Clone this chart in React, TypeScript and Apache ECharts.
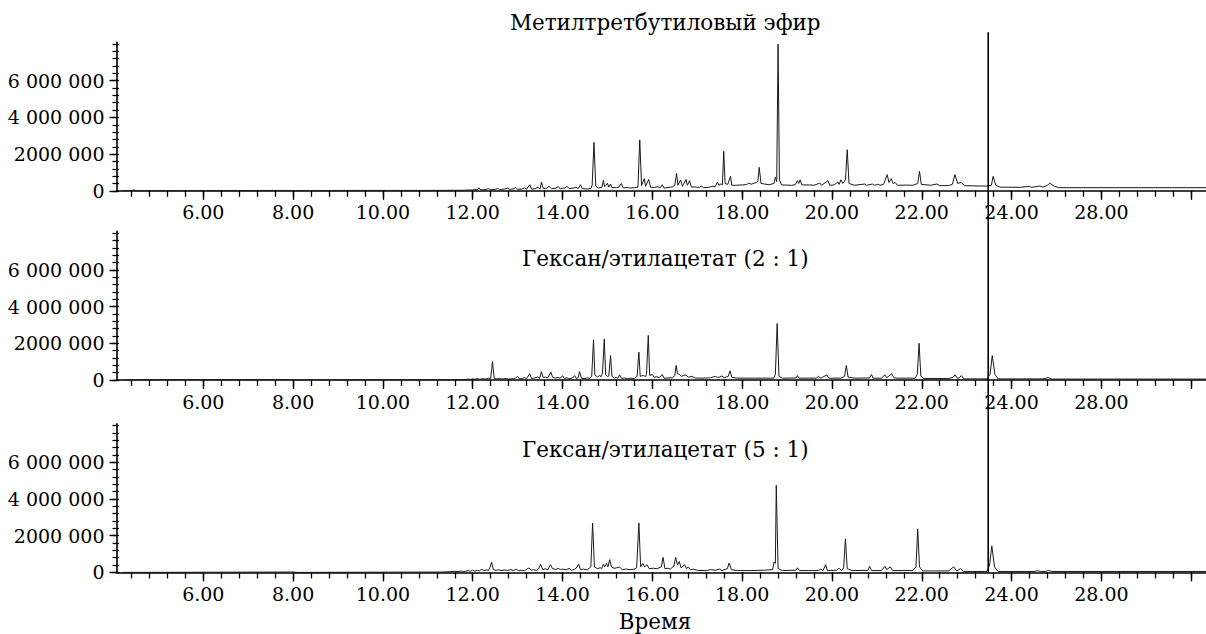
import React, { useEffect, useRef } from "react";
import * as echarts from "echarts";

// ---- Data (retention time in min, abundance) ----
const titles = [
  "Метилтретбутиловый эфир",
  "Гексан/этилацетат (2 : 1)",
  "Гексан/этилацетат (5 : 1)",
];
const xAxisName = "Время";

const xLabelValues = [6, 8, 10, 12, 14, 16, 18, 20, 22, 24, 26];
const xLabelTexts = ["6.00", "8.00", "10.00", "12.00", "14.00", "16.00", "18.00", "20.00", "22.00", "24.00", "28.00"];
const xMajorTicks = [6, 8, 10, 12, 14, 16, 18, 20, 22, 24, 26, 28];
const yLabelValues = [0, 2000000, 4000000, 6000000];
const yLabelTexts = ["0", "2000 000", "4 000 000", "6 000 000"];

const markerTime = 23.48;
const markerTop = 8640000;

const seriesMTBE: [number, number][] = [
  [4.2, 0], [4.4, 10000], [4.45, 50000], [4.5, 10000], [6, 10000], [7.8, 20000], [8, 10000], [9.5, 20000], [11, 20000],
  [11.8, 30000], [11.95, 50000], [12.0, 40000], [12.05, 90000], [12.1, 50000], [12.14, 160000], [12.18, 50000],
  [12.3, 70000], [12.35, 120000], [12.4, 60000], [12.5, 80000], [12.55, 130000], [12.6, 70000], [12.7, 90000],
  [12.78, 140000], [12.82, 80000], [12.9, 100000], [12.96, 180000], [13.0, 80000], [13.1, 100000], [13.15, 160000],
  [13.2, 90000], [13.27, 330000], [13.31, 90000], [13.4, 120000], [13.45, 200000], [13.5, 100000], [13.53, 480000],
  [13.57, 120000], [13.65, 150000], [13.7, 250000], [13.75, 120000], [13.85, 140000], [13.9, 220000], [13.95, 120000],
  [14.05, 150000], [14.1, 240000], [14.15, 120000], [14.25, 150000], [14.3, 200000], [14.35, 120000], [14.4, 330000],
  [14.44, 120000], [14.55, 100000], [14.63, 120000], [14.66, 300000], [14.70, 2640000], [14.74, 250000], [14.8, 150000],
  [14.88, 200000], [14.91, 570000], [14.94, 220000], [14.97, 300000], [15.0, 420000], [15.03, 200000], [15.07, 370000],
  [15.1, 180000], [15.2, 170000], [15.25, 200000], [15.31, 400000], [15.35, 160000], [15.45, 180000], [15.5, 150000],
  [15.6, 170000], [15.68, 200000], [15.72, 2780000], [15.76, 280000], [15.82, 660000], [15.85, 250000], [15.92, 620000],
  [15.96, 200000], [16.05, 180000], [16.12, 220000], [16.18, 170000], [16.22, 330000], [16.26, 150000], [16.35, 180000],
  [16.45, 220000], [16.5, 300000], [16.54, 950000], [16.57, 300000], [16.63, 590000], [16.67, 250000], [16.75, 620000],
  [16.78, 300000], [16.83, 550000], [16.87, 200000], [16.95, 210000], [17.05, 180000], [17.09, 260000], [17.14, 170000],
  [17.25, 190000], [17.35, 250000], [17.4, 220000], [17.45, 480000], [17.48, 300000], [17.53, 380000], [17.56, 320000],
  [17.59, 2150000], [17.62, 400000], [17.68, 350000], [17.74, 790000], [17.77, 300000], [17.85, 300000], [18.0, 320000],
  [18.1, 340000], [18.15, 420000], [18.2, 360000], [18.27, 420000], [18.32, 450000], [18.35, 520000], [18.38, 1280000],
  [18.42, 400000], [18.6, 330000], [18.71, 400000], [18.74, 750000], [18.77, 500000], [18.8, 8000000], [18.83, 600000],
  [18.88, 320000], [19.1, 300000], [19.18, 330000], [19.23, 550000], [19.26, 400000], [19.29, 600000], [19.33, 320000],
  [19.5, 320000], [19.6, 300000], [19.73, 420000], [19.77, 300000], [19.91, 550000], [19.95, 300000], [20.05, 320000],
  [20.13, 480000], [20.16, 350000], [20.2, 600000], [20.24, 400000], [20.3, 600000], [20.34, 2240000], [20.38, 400000],
  [20.5, 300000], [20.73, 370000], [20.77, 300000], [20.9, 370000], [20.95, 300000], [21.03, 360000], [21.07, 300000],
  [21.15, 350000], [21.23, 880000], [21.27, 450000], [21.32, 660000], [21.36, 400000], [21.41, 450000], [21.46, 300000],
  [21.65, 310000], [21.8, 300000], [21.91, 400000], [21.95, 1060000], [21.99, 350000], [22.2, 300000], [22.34, 370000],
  [22.4, 280000], [22.6, 290000], [22.68, 350000], [22.74, 880000], [22.8, 400000], [22.88, 460000], [22.95, 280000],
  [23.3, 260000], [23.45, 260000], [23.55, 300000], [23.59, 790000], [23.65, 300000], [23.75, 200000], [24.2, 190000],
  [24.4, 240000], [24.45, 190000], [24.63, 260000], [24.7, 200000], [24.8, 300000], [24.85, 420000], [24.95, 250000],
  [25.05, 170000], [28.4, 170000],
];

const seriesHex21: [number, number][] = [
  [4.2, 0], [4.6, 10000], [7.8, 20000], [8, 0], [11.8, 10000], [11.9, 50000], [11.95, 30000], [12.0, 60000],
  [12.05, 40000], [12.1, 80000], [12.15, 40000], [12.22, 70000], [12.3, 50000], [12.36, 110000], [12.4, 60000],
  [12.44, 1000000], [12.48, 80000], [12.55, 60000], [12.6, 90000], [12.65, 50000], [12.75, 80000], [12.8, 50000],
  [12.9, 70000], [12.95, 100000], [13.0, 200000], [13.04, 60000], [13.1, 80000], [13.15, 130000], [13.2, 70000],
  [13.27, 340000], [13.31, 90000], [13.38, 110000], [13.45, 170000], [13.49, 90000], [13.53, 460000], [13.57, 130000],
  [13.62, 160000], [13.67, 110000], [13.74, 430000], [13.78, 150000], [13.85, 100000], [13.9, 140000], [13.95, 90000],
  [14.0, 240000], [14.04, 80000], [14.1, 120000], [14.15, 70000], [14.22, 110000], [14.27, 240000], [14.31, 80000],
  [14.35, 130000], [14.38, 460000], [14.42, 100000], [14.5, 70000], [14.55, 120000], [14.6, 80000], [14.65, 200000],
  [14.69, 2190000], [14.72, 280000], [14.78, 150000], [14.82, 250000], [14.86, 180000], [14.89, 380000], [14.93, 2240000],
  [14.96, 300000], [15.0, 180000], [15.03, 220000], [15.07, 1330000], [15.1, 200000], [15.15, 100000], [15.2, 140000],
  [15.23, 90000], [15.27, 280000], [15.31, 90000], [15.38, 110000], [15.45, 70000], [15.52, 100000], [15.6, 80000],
  [15.66, 200000], [15.70, 1520000], [15.73, 200000], [15.8, 250000], [15.85, 180000], [15.87, 300000], [15.91, 2430000],
  [15.94, 250000], [16.0, 300000], [16.04, 150000], [16.1, 180000], [16.15, 120000], [16.22, 300000], [16.26, 100000],
  [16.35, 110000], [16.45, 120000], [16.5, 250000], [16.53, 790000], [16.56, 350000], [16.61, 300000], [16.65, 200000],
  [16.7, 250000], [16.75, 280000], [16.8, 150000], [16.88, 200000], [16.95, 110000], [17.1, 100000], [17.3, 120000],
  [17.4, 200000], [17.45, 140000], [17.5, 160000], [17.55, 220000], [17.6, 120000], [17.69, 200000], [17.73, 500000],
  [17.77, 150000], [17.9, 100000], [18.3, 100000], [18.7, 100000], [18.74, 300000], [18.78, 3080000], [18.82, 200000],
  [18.9, 100000], [19.2, 110000], [19.23, 250000], [19.27, 100000], [19.65, 100000], [19.7, 200000], [19.75, 100000],
  [19.89, 280000], [19.93, 100000], [20.2, 100000], [20.28, 200000], [20.32, 790000], [20.36, 150000], [20.5, 100000],
  [20.84, 110000], [20.88, 300000], [20.92, 100000], [21.1, 100000], [21.18, 280000], [21.22, 120000], [21.33, 340000],
  [21.38, 120000], [21.45, 100000], [21.85, 100000], [21.9, 300000], [21.94, 2000000], [21.98, 200000], [22.05, 80000],
  [22.6, 80000], [22.7, 150000], [22.74, 280000], [22.8, 80000], [22.85, 150000], [22.88, 240000], [22.94, 60000],
  [23.45, 60000], [23.52, 300000], [23.57, 1330000], [23.63, 300000], [23.7, 60000], [24.7, 60000], [24.82, 130000],
  [24.9, 50000], [28.4, 50000],
];

const seriesHex51: [number, number][] = [
  [4.2, 0], [6.3, 10000], [8, 20000], [8.1, 0], [11.3, 20000], [11.5, 40000], [11.6, 60000], [11.65, 40000],
  [11.75, 70000], [11.8, 50000], [11.9, 90000], [11.95, 60000], [12.0, 120000], [12.05, 70000], [12.1, 110000],
  [12.15, 80000], [12.2, 170000], [12.25, 90000], [12.3, 140000], [12.35, 100000], [12.38, 250000], [12.42, 560000],
  [12.46, 150000], [12.52, 110000], [12.58, 150000], [12.63, 100000], [12.7, 130000], [12.78, 110000], [12.85, 150000],
  [12.9, 100000], [12.97, 170000], [13.02, 100000], [13.1, 120000], [13.15, 90000], [13.25, 240000], [13.3, 120000],
  [13.36, 150000], [13.42, 110000], [13.47, 200000], [13.51, 450000], [13.56, 150000], [13.62, 200000], [13.67, 130000],
  [13.73, 420000], [13.78, 200000], [13.85, 160000], [13.9, 220000], [13.95, 150000], [14.0, 180000], [14.08, 140000],
  [14.15, 220000], [14.2, 110000], [14.26, 170000], [14.3, 220000], [14.36, 450000], [14.4, 150000], [14.47, 180000],
  [14.55, 140000], [14.63, 300000], [14.67, 2690000], [14.71, 300000], [14.78, 200000], [14.84, 260000], [14.87, 200000],
  [14.91, 450000], [14.94, 300000], [14.98, 490000], [15.01, 300000], [15.05, 690000], [15.09, 300000], [15.15, 220000],
  [15.2, 250000], [15.27, 290000], [15.33, 150000], [15.42, 180000], [15.5, 150000], [15.6, 180000], [15.65, 250000],
  [15.70, 2690000], [15.74, 300000], [15.79, 490000], [15.83, 300000], [15.88, 420000], [15.93, 200000], [16.02, 230000],
  [16.1, 200000], [16.2, 300000], [16.24, 820000], [16.28, 200000], [16.35, 230000], [16.4, 180000], [16.48, 350000],
  [16.52, 820000], [16.56, 400000], [16.6, 600000], [16.64, 250000], [16.72, 420000], [16.76, 200000], [16.8, 300000],
  [16.85, 150000], [16.92, 180000], [17.0, 110000], [17.2, 100000], [17.3, 150000], [17.4, 120000], [17.5, 180000],
  [17.55, 100000], [17.67, 200000], [17.71, 510000], [17.76, 150000], [17.9, 100000], [18.2, 100000], [18.5, 120000],
  [18.68, 150000], [18.71, 560000], [18.74, 500000], [18.76, 4750000], [18.8, 200000], [18.9, 100000], [19.2, 120000],
  [19.23, 250000], [19.28, 100000], [19.7, 100000], [19.75, 180000], [19.8, 100000], [19.86, 420000], [19.9, 100000],
  [20.1, 120000], [20.16, 220000], [20.22, 100000], [20.26, 250000], [20.30, 1830000], [20.34, 200000], [20.45, 100000],
  [20.8, 110000], [20.84, 330000], [20.88, 100000], [21.1, 100000], [21.18, 330000], [21.22, 150000], [21.3, 300000],
  [21.35, 100000], [21.8, 100000], [21.87, 300000], [21.91, 2360000], [21.95, 300000], [22.02, 80000], [22.6, 80000],
  [22.71, 300000], [22.78, 80000], [22.86, 200000], [22.93, 50000], [23.45, 50000], [23.51, 400000], [23.56, 1450000],
  [23.62, 300000], [23.7, 50000], [24.5, 50000], [24.59, 90000], [24.65, 50000], [24.75, 50000], [24.82, 110000],
  [24.9, 50000], [28.4, 50000],
];

const panelData = [seriesMTBE, seriesHex21, seriesHex51];

// ---- Layout ----
const W = 1206;
const H = 634;
const FONT = "DejaVu Serif";
const FS = 19;
const TITLE_FS = 21.5;
const gridLeft = 116.5;
const plotH = 148.6;
const zeroY = [190.8, 380, 572.4];
const titleY = [22, 258, 449];
const xMin = 4.067;
const xMax = 28.33;
const yMax = 8100000;

const xMinorTicks: number[] = [];
for (let k = 0; k <= 60; k++) {
  const v = Math.round((4.4 + 0.4 * k) * 10) / 10;
  if (v <= xMax) xMinorTicks.push(v);
}
const yMinorTicks: number[] = [];
for (let k = 0; k <= 20; k++) yMinorTicks.push(k * 400000);

export default function App() {
  const ref = useRef<HTMLDivElement>(null);
  useEffect(() => {
    if (!ref.current) return;
    const chart = echarts.init(ref.current, null, { renderer: "svg", width: W, height: H });
    const grids: any[] = [];
    const xAxes: any[] = [];
    const yAxes: any[] = [];
    const series: any[] = [];
    const black = "#000";
    for (let g = 0; g < 3; g++) {
      grids.push({ left: gridLeft, top: zeroY[g] - plotH, height: plotH, right: 0, containLabel: false });
      xAxes.push({
        type: "value", gridIndex: g, min: xMin, max: xMax, position: "bottom", offset: 0,
        axisLine: { show: true, onZero: false, lineStyle: { color: black, width: 1.6 } },
        axisTick: { show: true, customValues: xMajorTicks, length: 9, lineStyle: { color: black, width: 1.4 } },
        axisLabel: {
          show: true, customValues: xLabelValues, margin: 12, color: black, fontFamily: FONT, fontSize: FS,
          formatter: (v: number) => {
            const i = xLabelValues.indexOf(Math.round(v * 100) / 100);
            return i >= 0 ? xLabelTexts[i] : "";
          },
        },
        splitLine: { show: false },
      });
      xAxes.push({
        type: "value", gridIndex: g, min: xMin, max: xMax, position: "bottom", offset: 0,
        axisLine: { show: false, onZero: false },
        axisTick: { show: true, customValues: xMinorTicks, length: 6, lineStyle: { color: black, width: 1.3 } },
        axisLabel: { show: false },
        splitLine: { show: false },
      });
      yAxes.push({
        type: "value", gridIndex: g, min: 0, max: yMax, position: "left", offset: 0,
        axisLine: { show: true, onZero: false, lineStyle: { color: black, width: 1.6 } },
        axisTick: { show: true, customValues: yLabelValues, length: 7, lineStyle: { color: black, width: 1.4 } },
        axisLabel: {
          show: true, customValues: yLabelValues, margin: 12, color: black, fontFamily: FONT, fontSize: FS,
          formatter: (v: number) => {
            const i = yLabelValues.indexOf(Math.round(v));
            return i >= 0 ? yLabelTexts[i] : "";
          },
        },
        splitLine: { show: false },
      });
      yAxes.push({
        type: "value", gridIndex: g, min: 0, max: yMax, position: "left", offset: 0,
        axisLine: { show: false, onZero: false },
        axisTick: { show: true, customValues: yMinorTicks, length: 4, lineStyle: { color: black, width: 1.3 } },
        axisLabel: { show: false },
        splitLine: { show: false },
      });
      yAxes.push({
        type: "value", gridIndex: g, min: 0, max: yMax, position: "left", offset: 0,
        axisLine: { show: false, onZero: false },
        axisTick: { show: true, inside: true, customValues: yMinorTicks, length: 2.5, lineStyle: { color: black, width: 1.3 } },
        axisLabel: { show: false },
        splitLine: { show: false },
      });
      series.push({
        type: "line", xAxisIndex: g * 2, yAxisIndex: g * 3, data: panelData[g],
        showSymbol: false, symbol: "none", clip: true,
        lineStyle: { color: "#1a1a1a", width: 1 },
        emphasis: { disabled: true },
      });
    }
    chart.setOption({
      animation: false,
      backgroundColor: "#fff",
      grid: grids,
      xAxis: xAxes,
      yAxis: yAxes,
      series,
    });
    const top = chart.convertToPixel({ gridIndex: 0 } as any, [markerTime, markerTop]) as number[];
    const bottom = chart.convertToPixel({ gridIndex: 2 } as any, [markerTime, 0]) as number[];
    const centerX = gridLeft + (W - gridLeft) / 2 + 4;
    const graphic: any[] = [
      {
        type: "line", z: 10,
        shape: { x1: top[0], y1: top[1], x2: bottom[0], y2: bottom[1] },
        style: { stroke: "#000", lineWidth: 1.6 },
      },
    ];
    for (let g = 0; g < 3; g++) {
      graphic.push({
        type: "text", x: centerX, y: titleY[g],
        style: { text: titles[g], fill: "#000", font: `${TITLE_FS}px "${FONT}"`, textAlign: "center", textVerticalAlign: "middle" },
      });
    }
    graphic.push({
      type: "text", x: 655, y: 621,
      style: { text: xAxisName, fill: "#000", font: `${TITLE_FS}px "${FONT}"`, textAlign: "center", textVerticalAlign: "middle" },
    });
    chart.setOption({ graphic });
    return () => chart.dispose();
  }, []);
  return (
    <div
      ref={ref}
      style={{ position: "fixed", left: 0, top: 0, width: W, height: H, background: "#fff" }}
    />
  );
}
